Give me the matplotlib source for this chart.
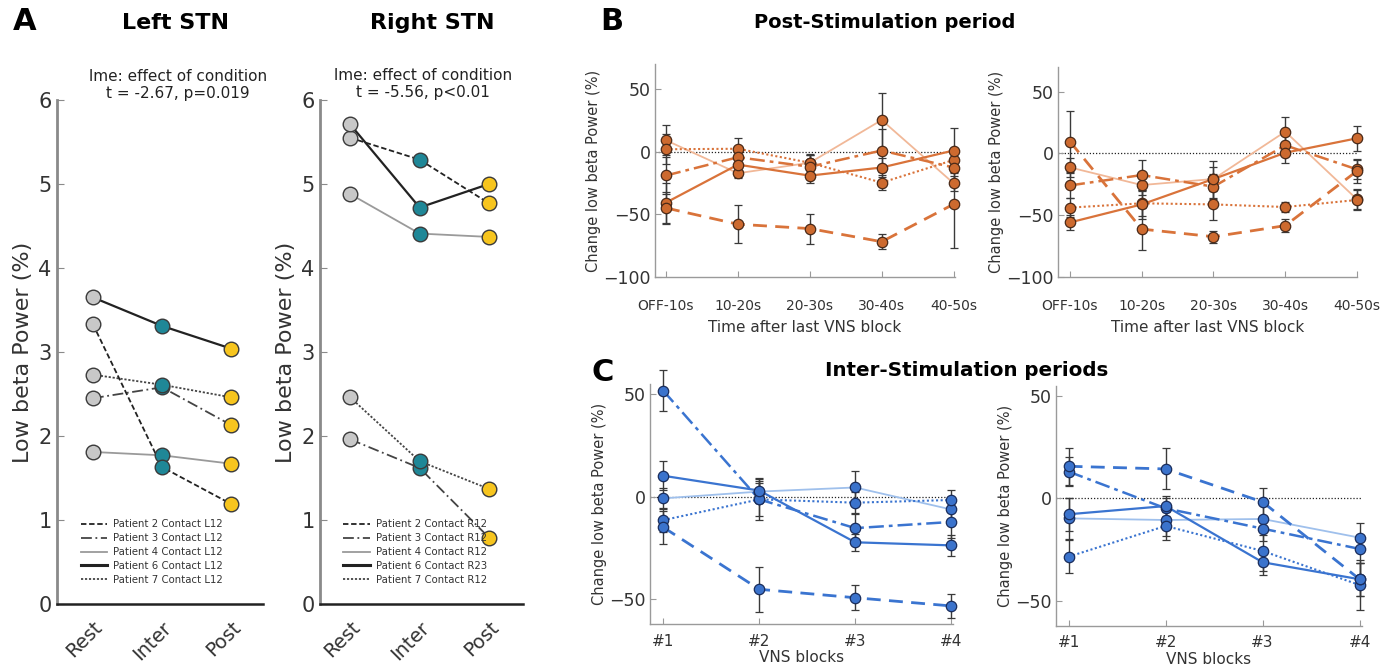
import matplotlib
matplotlib.use('Agg')
import matplotlib.pyplot as plt
from matplotlib.lines import Line2D

W, H = 1386, 669

# ---------------- Panel A data ----------------
conditions = ['Rest', 'Inter', 'Post']
legend_left = ['Patient 2 Contact L12', 'Patient 3 Contact L12', 'Patient 4 Contact L12',
               'Patient 6 Contact L12', 'Patient 7 Contact L12']
legend_right = ['Patient 2 Contact R12', 'Patient 3 Contact R12', 'Patient 4 Contact R12',
                'Patient 6 Contact R23', 'Patient 7 Contact R12']

left_p2 = [3.33, 1.63, 1.19]
left_p3 = [2.45, 2.58, 2.13]
left_p4 = [1.81, 1.77, 1.67]
left_p6 = [3.65, 3.31, 3.04]
left_p7 = [2.73, 2.61, 2.46]

right_p2 = [5.55, 5.29, 4.77]
right_p3 = [1.96, 1.62, 0.79]
right_p4 = [4.88, 4.41, 4.37]
right_p6 = [5.71, 4.72, 5.00]
right_p7 = [2.46, 1.70, 1.37]

stats_left = 'lme: effect of condition\nt = -2.67, p=0.019'
stats_right = 'lme: effect of condition\nt = -5.56, p<0.01'

# ---------------- Panel B data ----------------
post_labels = ['OFF-10s', '10-20s', '20-30s', '30-40s', '40-50s']

bL_light = [9.2, -17.2, -8.8, 25.4, -25.2]
bL_light_err = [12, 4, 6, 22, 6]
bL_solid = [-40.7, -10.3, -19.1, -12.6, 1.0]
bL_solid_err = [16, 10, 6, 8, 18]
bL_dashed = [-45.0, -58.0, -61.5, -72.0, -42.0]
bL_dashed_err = [13, 15, 12, 6, 35]
bL_dashdot = [-19.0, -4.4, -12.0, 1.0, -12.6]
bL_dashdot_err = [15, 7, 10, 17, 12]
bL_dotted = [2.0, 2.4, -8.8, -24.7, -6.6]
bL_dotted_err = [12, 9, 6, 6, 10]

bR_light = [-11.4, -25.7, -20.8, 17.6, -37.3]
bR_light_err = [8, 8, 10, 12, 8]
bR_solid = [-56.0, -41.4, -20.8, 0.5, 12.2]
bR_solid_err = [6, 12, 15, 8, 10]
bR_dashed = [9.5, -61.4, -67.6, -58.6, -14.3]
bR_dashed_err = [25, 17, 5, 5, 10]
bR_dashdot = [-26.0, -17.6, -27.0, 6.5, -13.0]
bR_dashdot_err = [10, 12, 10, 8, 8]
bR_dotted = [-44.0, -40.5, -41.4, -43.5, -37.8]
bR_dotted_err = [8, 10, 13, 4, 8]

# ---------------- Panel C data ----------------
block_labels = ['#1', '#2', '#3', '#4']

cL_light = [-0.8, 2.5, 4.5, -6.2]
cL_light_err = [5, 5, 8, 5]
cL_solid = [10.2, 3.0, -22.2, -23.7]
cL_solid_err = [7, 6, 4, 5]
cL_dashed = [-14.9, -45.1, -49.2, -53.2]
cL_dashed_err = [8, 11, 6, 6]
cL_dashdot = [51.6, -1.3, -15.3, -12.3]
cL_dashdot_err = [10, 10, 7, 8]
cL_dotted = [-11.4, -1.3, -2.9, -1.6]
cL_dotted_err = [6, 8, 5, 5]

cR_light = [-9.7, -10.5, -10.0, -19.1]
cR_light_err = [10, 8, 8, 7]
cR_solid = [-7.7, -3.7, -31.1, -39.4]
cR_solid_err = [8, 5, 6, 8]
cR_dashed = [15.7, 14.4, -1.7, -39.4]
cR_dashed_err = [9, 10, 7, 8]
cR_dashdot = [13.1, -4.8, -14.7, -24.6]
cR_dashdot_err = [7, 5, 6, 7]
cR_dotted = [-28.4, -13.4, -25.6, -42.2]
cR_dotted_err = [8, 7, 10, 12]

plt.rcParams['font.family'] = ['DejaVu Sans']

fig = plt.figure(figsize=(W / 100, H / 100), dpi=100)
fig.patch.set_facecolor('white')


def pax(x0, x1, ytop, ybot):
    return fig.add_axes([x0 / W, 1 - ybot / H, (x1 - x0) / W, (ybot - ytop) / H])


def ftext(x, y, s, **kw):
    fig.text(x / W, 1 - y / H, s, **kw)


TXT = '#333333'
SPINE = '#8a8a8a'

# ---------- Panel A ----------
rest_c, inter_c, post_c = '#c8c8c8', '#1f8797', '#f7c51e'
edge_c = '#3a3a3a'
styles_A = {
    'p2': dict(color='#222222', ls=(0, (3, 1.5)), lw=1.3),
    'p3': dict(color='#444444', ls=(0, (6, 2, 1, 2)), lw=1.3),
    'p4': dict(color='#9a9a9a', ls='-', lw=1.3),
    'p6': dict(color='#222222', ls='-', lw=1.6),
    'p7': dict(color='#444444', ls=(0, (1.2, 1)), lw=1.3),
}


def panel_a(ax, series, labels, xlim):
    xs = [1, 2, 3]
    for key, vals in series:
        ax.plot(xs, vals, zorder=2, **styles_A[key])
        for x, v, c in zip(xs, vals, [rest_c, inter_c, post_c]):
            ax.plot([x], [v], 'o', ms=10.5, mfc=c, mec=edge_c, mew=1.0, zorder=3)
    ax.set_xlim(*xlim)
    ax.set_ylim(0, 6)
    ax.set_yticks(range(7))
    ax.set_xticks(xs)
    ax.set_xticklabels(conditions, rotation=45, ha='right', rotation_mode='anchor')
    for s in ['top', 'right']:
        ax.spines[s].set_visible(False)
    ax.spines['left'].set_color(SPINE)
    ax.spines['left'].set_linewidth(2.0)
    ax.spines['bottom'].set_color('#222222')
    ax.spines['bottom'].set_linewidth(1.8)
    ax.tick_params(axis='y', direction='in', length=5, color=SPINE, labelsize=15,
                   labelcolor=TXT, pad=4)
    ax.tick_params(axis='x', length=0, labelsize=14, labelcolor=TXT, pad=10)
    ax.set_ylabel('Low beta Power (%)', fontsize=16, color=TXT, labelpad=4)
    handles = [Line2D([], [], **styles_A[k]) for k in ['p2', 'p3', 'p4', 'p6', 'p7']]
    handles[3].set_linewidth(2.2)
    ax.legend(handles, labels, loc='lower left', bbox_to_anchor=(0.07, 0.02),
              frameon=False, fontsize=7.3, handlelength=2.6, handletextpad=0.6,
              labelspacing=0.38, labelcolor=TXT)


axA1 = pax(57, 263, 100, 604)
panel_a(axA1, [('p4', left_p4), ('p3', left_p3), ('p7', left_p7), ('p2', left_p2), ('p6', left_p6)],
        legend_left, (0.48, 3.46))
axA2 = pax(320, 523, 100, 604)
panel_a(axA2, [('p4', right_p4), ('p3', right_p3), ('p7', right_p7), ('p2', right_p2), ('p6', right_p6)],
        legend_right, (0.565, 3.49))

ftext(178, 85, stats_left, ha='center', va='center', fontsize=11, color='#222222',
      linespacing=1.15)
ftext(423, 84, stats_right, ha='center', va='center', fontsize=11, color='#222222',
      linespacing=1.15)

# ---------- Panels B & C ----------
ORANGE, ORANGE_L = '#d9733a', '#f1b898'
ORANGE_M, ORANGE_E = '#cd6a2f', '#4a2a18'
BLUE, BLUE_L = '#3a74d0', '#9fc0ec'
BLUE_M, BLUE_E = '#3b73cc', '#1a2d5c'


def line_styles(main, light):
    return {
        'light': dict(color=light, ls='-', lw=1.3),
        'solid': dict(color=main, ls='-', lw=1.6),
        'dashed': dict(color=main, ls=(0, (5, 3)), lw=2.0),
        'dashdot': dict(color=main, ls=(0, (6, 2, 1.5, 2)), lw=1.8),
        'dotted': dict(color=main, ls=(0, (1, 1.2)), lw=1.5),
    }


def panel_bc(ax, series, labels, ylim, yticks, xlim, main, light, mfc, mec, xlabel,
             xtick_size, xpad, xlabelpad):
    st = line_styles(main, light)
    xs = list(range(1, len(labels) + 1))
    ax.axhline(0, color='#222222', ls=(0, (1, 1.5)), lw=0.9, zorder=1)
    for key, vals, err in series:
        ax.errorbar(xs, vals, yerr=err, fmt='none', ecolor='#3a3a3a', elinewidth=1.0,
                    capsize=3, capthick=0.9, zorder=2, clip_on=False)
        ax.plot(xs, vals, zorder=3, **st[key])
        ax.plot(xs, vals, 'o', ls='none', ms=7.5, mfc=mfc, mec=mec, mew=0.9, zorder=4,
                clip_on=False)
    ax.set_xlim(*xlim)
    ax.set_ylim(*ylim)
    ax.set_yticks(yticks)
    ax.set_xticks(xs)
    ax.set_xticklabels(labels)
    for s in ['top', 'right']:
        ax.spines[s].set_visible(False)
    for s in ['left', 'bottom']:
        ax.spines[s].set_color('#9a9a9a')
        ax.spines[s].set_linewidth(1.0)
    ax.tick_params(axis='y', direction='in', length=4, color='#9a9a9a', labelsize=12.5,
                   labelcolor=TXT, pad=3)
    ax.tick_params(axis='x', direction='in', length=4, color='#9a9a9a',
                   labelsize=xtick_size, labelcolor=TXT, pad=xpad)
    ax.set_ylabel('Change low beta Power (%)', fontsize=10.5, color=TXT, labelpad=2)
    ax.set_xlabel(xlabel, fontsize=11, color=TXT, labelpad=xlabelpad)


axB1 = pax(655, 955, 64.3, 276.7)
panel_bc(axB1, [('light', bL_light, bL_light_err), ('dotted', bL_dotted, bL_dotted_err),
                ('dashdot', bL_dashdot, bL_dashdot_err), ('solid', bL_solid, bL_solid_err),
                ('dashed', bL_dashed, bL_dashed_err)],
         post_labels, (-100, 70), [-100, -50, 0, 50], (0.847, 5.02),
         ORANGE, ORANGE_L, ORANGE_M, ORANGE_E, 'Time after last VNS block', 10, 16, 5)

axB2 = pax(1058, 1357, 67.0, 276.7)
panel_bc(axB2, [('light', bR_light, bR_light_err), ('dotted', bR_dotted, bR_dotted_err),
                ('dashdot', bR_dashdot, bR_dashdot_err), ('solid', bR_solid, bR_solid_err),
                ('dashed', bR_dashed, bR_dashed_err)],
         post_labels, (-100, 70), [-100, -50, 0, 50], (0.833, 5.0),
         ORANGE, ORANGE_L, ORANGE_M, ORANGE_E, 'Time after last VNS block', 10, 16, 5)

axC1 = pax(650, 953, 383.8, 624)
panel_bc(axC1, [('light', cL_light, cL_light_err), ('dotted', cL_dotted, cL_dotted_err),
                ('dashdot', cL_dashdot, cL_dashdot_err), ('solid', cL_solid, cL_solid_err),
                ('dashed', cL_dashed, cL_dashed_err)],
         block_labels, (-62, 55), [-50, 0, 50], (0.861, 4.02),
         BLUE, BLUE_L, BLUE_M, BLUE_E, 'VNS blocks', 11, 7, 1)

axC2 = pax(1056, 1362, 385.7, 625.6)
panel_bc(axC2, [('light', cR_light, cR_light_err), ('dotted', cR_dotted, cR_dotted_err),
                ('dashdot', cR_dashdot, cR_dashdot_err), ('solid', cR_solid, cR_solid_err),
                ('dashed', cR_dashed, cR_dashed_err)],
         block_labels, (-62, 55), [-50, 0, 50], (0.87, 4.025),
         BLUE, BLUE_L, BLUE_M, BLUE_E, 'VNS blocks', 11, 7, 1)

# ---------- titles / panel letters ----------
ftext(25, 22, 'A', ha='center', va='center', fontsize=22, fontweight='bold')
ftext(176, 23, 'Left STN', ha='center', va='center', fontsize=16, fontweight='bold')
ftext(432, 23, 'Right STN', ha='center', va='center', fontsize=16, fontweight='bold')
ftext(612, 22, 'B', ha='center', va='center', fontsize=22, fontweight='bold')
ftext(885, 22, 'Post-Stimulation period', ha='center', va='center', fontsize=14,
      fontweight='bold')
ftext(603, 372, 'C', ha='center', va='center', fontsize=22, fontweight='bold')
ftext(967, 370, 'Inter-Stimulation periods', ha='center', va='center', fontsize=14.3,
      fontweight='bold')

fig.savefig('out.png', dpi=100, facecolor='white')
